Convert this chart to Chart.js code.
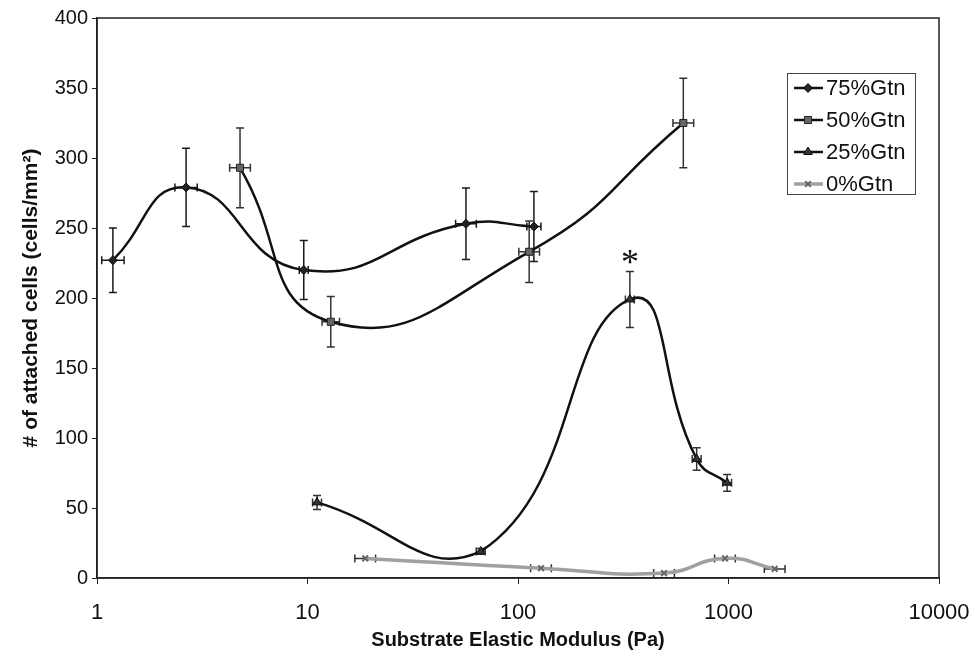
<!DOCTYPE html>
<html>
<head>
<meta charset="utf-8">
<script src="https://cdn.jsdelivr.net/npm/chart.js@4/dist/chart.umd.min.js"></script>
<style>
  html, body { margin: 0; padding: 0; background: #fff; }
  #wrap { width: 976px; height: 659px; }
</style>
</head>
<body>
<div id="wrap"><canvas id="cellChart" width="976" height="659"></canvas></div>
<script>
// values (x in Pa, y in cells/mm2)
const x75 = [1.19, 2.65, 9.6, 56.6, 119];
const y75 = [227, 279, 220, 253, 251];
const yErr75 = [23, 28, 21, 25.5, 25];
const xErr75 = [0.13, 0.13, 0.05, 0.12, 0.08];

const x50 = [4.78, 12.9, 113, 610];
const y50 = [293, 183, 233, 325];
const yErr50 = [28.5, 18, 22, 32];
const xErr50 = [0.12, 0.1, 0.12, 0.12];

const x25 = [11.1, 66.5, 340, 706, 985];
const y25 = [54, 19, 199, 85, 68];
const yErr25 = [5, 2, 20, 8, 6];
const xErr25 = [0.05, 0.05, 0.05, 0.05, 0.05];

const x0 = [18.8, 128.6, 494, 962, 1657];
const y0 = [14, 7, 3.5, 14, 6.5];
const yErr0 = [0, 0, 0, 0, 0];
const xErr0 = [0.12, 0.12, 0.12, 0.12, 0.12];

const xTicks = [1, 10, 100, 1000, 10000];
const starMark = { x: 340, y: 229, text: '*' };

function pts(xs, ys) {
  return xs.map((v, i) => ({ x: v, y: ys[i] }));
}

const errorBars = {
  id: 'errorBars',
  beforeDatasetsDraw(chart) {
    const { ctx, scales: { x, y } } = chart;
    chart.data.datasets.forEach(ds => {
      ctx.save();
      ctx.strokeStyle = ds.errColor;
      ctx.lineWidth = 1.5;
      ds.data.forEach((p, i) => {
        const px = x.getPixelForValue(p.x);
        const py = y.getPixelForValue(p.y);
        const e = ds.yErr[i];
        if (e) {
          const t = y.getPixelForValue(p.y + e);
          const b = y.getPixelForValue(p.y - e);
          ctx.beginPath();
          ctx.moveTo(px, t); ctx.lineTo(px, b);
          ctx.moveTo(px - 4, t); ctx.lineTo(px + 4, t);
          ctx.moveTo(px - 4, b); ctx.lineTo(px + 4, b);
          ctx.stroke();
        }
        const f = ds.xErr[i];
        if (f) {
          const l = x.getPixelForValue(p.x / (1 + f));
          const r = x.getPixelForValue(p.x * (1 + f));
          ctx.beginPath();
          ctx.moveTo(l, py); ctx.lineTo(r, py);
          ctx.moveTo(l, py - 4); ctx.lineTo(l, py + 4);
          ctx.moveTo(r, py - 4); ctx.lineTo(r, py + 4);
          ctx.stroke();
        }
      });
      ctx.restore();
    });
  }
};

const frameAndLegend = {
  id: 'frameAndLegend',
  afterDraw(chart) {
    const { ctx, chartArea: a, scales: { x, y } } = chart;
    ctx.save();
    // plot frame
    ctx.strokeStyle = '#222';
    ctx.lineWidth = 1.5;
    ctx.strokeRect(a.left, a.top, a.right - a.left, a.bottom - a.top);

    // significance star
    ctx.fillStyle = '#111';
    ctx.font = '36px "Liberation Serif", serif';
    ctx.textAlign = 'center';
    ctx.textBaseline = 'middle';
    ctx.fillText(starMark.text, x.getPixelForValue(starMark.x), y.getPixelForValue(starMark.y) + 7);

    // legend box
    ctx.lineWidth = 1;
    ctx.strokeStyle = '#444';
    ctx.strokeRect(787.5, 73.5, 128, 121);
    ctx.font = '22px "Liberation Sans", Arial, sans-serif';
    ctx.textAlign = 'left';
    chart.data.datasets.forEach((ds, i) => {
      const ly = 88 + i * 32;
      ctx.strokeStyle = ds.borderColor;
      ctx.lineWidth = ds.borderWidth;
      ctx.beginPath();
      ctx.moveTo(794, ly); ctx.lineTo(823, ly);
      ctx.stroke();
      ctx.fillStyle = ds.pointBackgroundColor;
      ctx.strokeStyle = ds.pointBorderColor;
      ctx.lineWidth = ds.pointBorderWidth;
      Chart.helpers.drawPoint(ctx, { pointStyle: ds.pointStyle, radius: ds.pointRadius, rotation: 0, borderWidth: ds.pointBorderWidth }, 808, ly);
      ctx.fillStyle = '#111';
      ctx.fillText(ds.label, 826, ly + 1);
    });
    ctx.restore();
  }
};

new Chart(document.getElementById('cellChart'), {
  type: 'line',
  data: {
    datasets: [
      {
        label: '75%Gtn', data: pts(x75, y75), yErr: yErr75, xErr: xErr75, errColor: '#1a1a1a',
        borderColor: '#111', borderWidth: 2.5, tension: 0.5,
        pointStyle: 'rectRot', pointRadius: 4.5, pointBorderWidth: 1,
        pointBackgroundColor: '#222', pointBorderColor: '#111'
      },
      {
        label: '50%Gtn', data: pts(x50, y50), yErr: yErr50, xErr: xErr50, errColor: '#333',
        borderColor: '#111', borderWidth: 2.5, tension: 0.5,
        pointStyle: 'rect', pointRadius: 5, pointBorderWidth: 1,
        pointBackgroundColor: '#666', pointBorderColor: '#222'
      },
      {
        label: '25%Gtn', data: pts(x25, y25), yErr: yErr25, xErr: xErr25, errColor: '#333',
        borderColor: '#111', borderWidth: 2.5, tension: 0.5,
        pointStyle: 'triangle', pointRadius: 5, pointBorderWidth: 1,
        pointBackgroundColor: '#333', pointBorderColor: '#111'
      },
      {
        label: '0%Gtn', data: pts(x0, y0), yErr: yErr0, xErr: xErr0, errColor: '#333',
        borderColor: '#a0a0a0', borderWidth: 3.5, tension: 0.5,
        pointStyle: 'crossRot', pointRadius: 4, pointBorderWidth: 2,
        pointBackgroundColor: '#777', pointBorderColor: '#666'
      }
    ]
  },
  options: {
    responsive: false,
    animation: false,
    devicePixelRatio: 1,
    layout: { padding: { top: 18, right: 37, left: 0, bottom: 0 } },
    plugins: {
      legend: { display: false },
      tooltip: { enabled: false }
    },
    scales: {
      x: {
        type: 'logarithmic',
        min: 1,
        max: 10000,
        afterBuildTicks: scale => { scale.ticks = xTicks.map(v => ({ value: v })); },
        afterFit: scale => {
          scale.height = 81;
          scale.paddingLeft = 0;
          scale.paddingRight = 0;
        },
        ticks: {
          color: '#111',
          padding: 16,
          maxRotation: 0,
          font: { family: '"Liberation Sans Narrow", "Arial Narrow", "Liberation Sans", sans-serif', size: 22 },
          callback: v => String(v)
        },
        grid: { drawOnChartArea: false, tickLength: 6, color: '#222' },
        border: { color: '#222', width: 1.5 },
        title: {
          display: true,
          text: 'Substrate Elastic Modulus (Pa)',
          color: '#111',
          padding: { top: 0, bottom: 7 },
          font: { family: '"Liberation Sans Narrow", "Arial Narrow", "Liberation Sans", sans-serif', size: 20, weight: 'bold' }
        }
      },
      y: {
        min: 0,
        max: 400,
        afterFit: scale => { scale.width = 97; },
        ticks: {
          stepSize: 50,
          color: '#111',
          padding: 4,
          font: { family: '"Liberation Sans", Arial, sans-serif', size: 20 }
        },
        grid: { drawOnChartArea: false, tickLength: 5, color: '#222' },
        border: { color: '#222', width: 1.5 },
        title: {
          display: true,
          text: '# of attached cells (cells/mm²)',
          color: '#111',
          padding: { top: 19, bottom: 0 },
          font: { family: '"Liberation Sans", Arial, sans-serif', size: 21, weight: 'bold' }
        }
      }
    }
  },
  plugins: [errorBars, frameAndLegend]
});
</script>
</body>
</html>
